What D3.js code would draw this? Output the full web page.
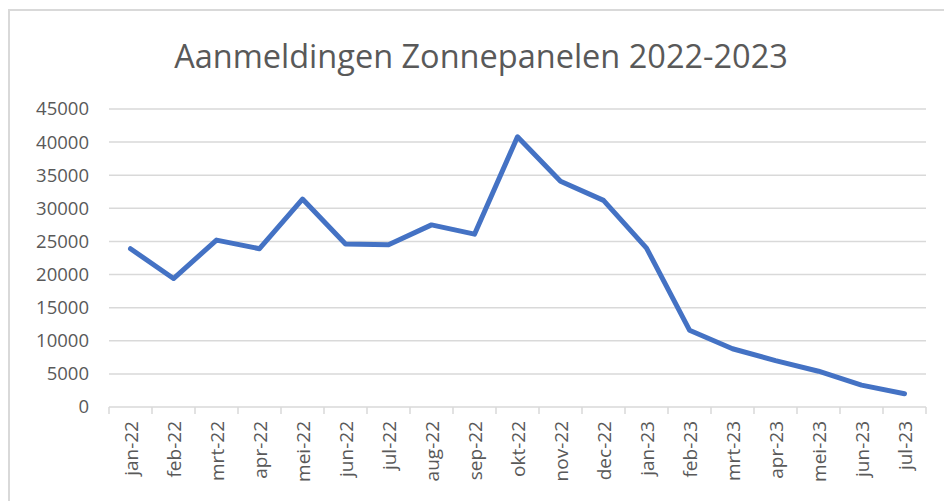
<!DOCTYPE html>
<html>
<head>
<meta charset="utf-8">
<script src="https://cdn.jsdelivr.net/npm/d3@7"></script>
<style>
  body { margin: 0; background: #fff; }
  text { font-family: "Open Sans", "Liberation Sans", sans-serif; fill: #595959; }
</style>
</head>
<body>
<svg id="chart" width="944" height="501"></svg>
<script>
// Data
const months = ["jan-22", "feb-22", "mrt-22", "apr-22", "mei-22", "jun-22", "jul-22", "aug-22", "sep-22", "okt-22",
                "nov-22", "dec-22", "jan-23", "feb-23", "mrt-23", "apr-23", "mei-23", "jun-23", "jul-23"]
const aanmeldingen = [23900, 19400, 25200, 23900, 31400, 24600, 24500, 27500, 26100, 40800,
                      34100, 31200, 24000, 11600, 8800, 7000, 5400, 3300, 2000]
const yTicks = [0, 5000, 10000, 15000, 20000, 25000, 30000, 35000, 40000, 45000]
const title = "Aanmeldingen Zonnepanelen 2022-2023"

const plot = { left: 109, right: 926, top: 109, bottom: 407 }
const gridColour = "#d9d9d9"

const svg = d3.select("#chart")

// outer frame (only left and top edges are visible in the picture)
svg.append("rect")
    .attr("x", 9).attr("y", 10)
    .attr("width", 1000).attr("height", 1000)
    .attr("fill", "none")
    .attr("stroke", gridColour)
    .attr("stroke-width", 2)

svg.append("text")
    .attr("x", 481).attr("y", 68)
    .attr("text-anchor", "middle")
    .attr("font-size", 32.5)
    .text(title)

const x = d3.scaleBand().domain(months).range([plot.left, plot.right])
const y = d3.scaleLinear().domain([0, 45000]).range([plot.bottom, plot.top])

// gridlines
svg.append("g")
    .selectAll("line")
    .data(yTicks.filter(d => d > 0))
    .join("line")
    .attr("x1", plot.left).attr("x2", plot.right)
    .attr("y1", d => y(d)).attr("y2", d => y(d))
    .attr("stroke", gridColour)
    .attr("stroke-width", 1.5)

// y axis labels
const yAxis = d3.axisLeft(y).tickValues(yTicks).tickSize(0).tickPadding(0).tickFormat(d3.format("d"))
svg.append("g")
    .attr("transform", "translate(" + (plot.left - 20) + ",0)")
    .call(yAxis)
    .call(g => g.select(".domain").remove())
    .selectAll("text")
    .attr("font-size", 18.5)
    .attr("font-family", null)
    .attr("fill", "#595959")

// x axis: baseline, ticks on category boundaries, rotated labels
const xg = svg.append("g")
xg.append("line")
    .attr("x1", plot.left).attr("x2", plot.right)
    .attr("y1", plot.bottom).attr("y2", plot.bottom)
    .attr("stroke", gridColour).attr("stroke-width", 1.5)
const bounds = months.map(m => x(m)).concat([plot.right])
xg.selectAll(".tick")
    .data(bounds)
    .join("line")
    .attr("x1", d => d).attr("x2", d => d)
    .attr("y1", plot.bottom).attr("y2", plot.bottom + 7)
    .attr("stroke", gridColour).attr("stroke-width", 1.5)
xg.selectAll(".lbl")
    .data(months)
    .join("text")
    .attr("transform", d => "translate(" + (x(d) + x.bandwidth() / 2 + 7) + "," + (plot.bottom + 14) + ") rotate(-90)")
    .attr("text-anchor", "end")
    .attr("font-size", 19)
    .text(d => d)

// series line
const line = d3.line()
    .x((d, i) => x(months[i]) + x.bandwidth() / 2)
    .y(d => y(d))
svg.append("path")
    .datum(aanmeldingen)
    .attr("d", line)
    .attr("fill", "none")
    .attr("stroke", "#4472c4")
    .attr("stroke-width", 5)
    .attr("stroke-linejoin", "round")
    .attr("stroke-linecap", "round")
</script>
</body>
</html>
